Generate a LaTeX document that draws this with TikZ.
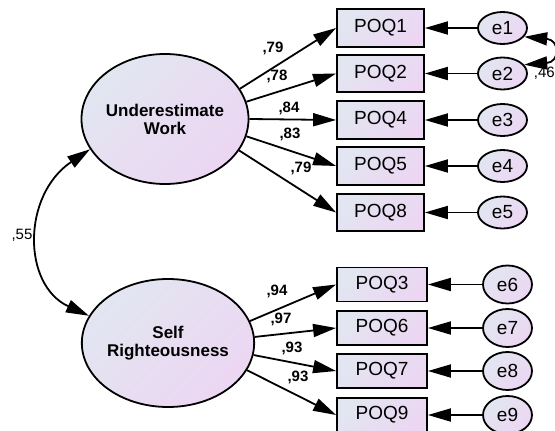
\documentclass[tikz,border=0pt]{standalone}
\usepackage{fontspec}
\setmainfont{Liberation Sans}
\usetikzlibrary{arrows.meta,shapes.geometric}
\definecolor{gA}{RGB}{226,230,241}
\definecolor{gB}{RGB}{236,214,242}
\tikzset{
 gradfill/.style={top color=gA,bottom color=gB,shading angle=45},
 latent/.style={ellipse,draw,line width=1.8pt,gradfill,inner sep=0pt,align=center,
   minimum width=160pt,font=\fontsize{17}{18}\selectfont\bfseries},
 obs/.style={rectangle,draw,line width=1.8pt,gradfill,inner sep=0pt,font=\fontsize{19}{20}\selectfont},
 err/.style={ellipse,draw,line width=1.8pt,gradfill,inner sep=0pt,minimum width=49pt,font=\fontsize{19}{20}\selectfont},
 bigtip/.tip={Triangle[length=23pt 0,width=13pt 0]},
 loadarrow/.style={line width=1.8pt,-bigtip},
 covarrow/.style={line width=1.8pt,bigtip-bigtip},
 coef/.style={font=\fontsize{15}{15}\selectfont\bfseries,inner sep=0pt},
 coefr/.style={font=\fontsize{15}{15}\selectfont,inner sep=0pt},
 upbox/.style={obs,minimum width=87pt,minimum height=37.5pt},
 lowbox/.style={obs,minimum width=90pt,minimum height=34pt},
 uperr/.style={err,minimum height=32pt},
 lowerr/.style={err,minimum height=38pt},
}
\begin{document}
\begin{tikzpicture}[x=1pt,y=-1pt]
\useasboundingbox (0,0) rectangle (555,431);
% latent variables
\node[latent,minimum height=130pt] (UW) at (165,119) {Underestimate\\Work};
\node[latent,minimum height=128pt] (SR) at (168,343) {Self\\Righteousness};
% upper indicators
\node[upbox] (q1) at (380.5,28) {POQ1};
\node[upbox] (q2) at (380.5,73.5) {POQ2};
\node[upbox] (q4) at (380.5,120) {POQ4};
\node[upbox] (q5) at (380.5,166) {POQ5};
\node[upbox] (q8) at (380.5,212.5) {POQ8};
\node[uperr] (e1) at (502.5,28) {e1};
\node[uperr] (e2) at (502.5,73.5) {e2};
\node[uperr] (e3) at (502.5,120) {e3};
\node[uperr] (e4) at (502.5,166) {e4};
\node[uperr] (e5) at (502.5,212.5) {e5};
% lower indicators
\node[lowbox] (q3) at (382,284.5) {POQ3};
\node[lowbox] (q6) at (382,328) {POQ6};
\node[lowbox] (q7) at (382,371) {POQ7};
\node[lowbox] (q9) at (382,415) {POQ9};
\node[lowerr] (e6) at (507.5,284.5) {e6};
\node[lowerr] (e7) at (507.5,328) {e7};
\node[lowerr] (e8) at (507.5,371) {e8};
\node[lowerr] (e9) at (507.5,415) {e9};
% loadings
\draw[loadarrow] (UW.22) -- (q1.west);
\draw[loadarrow] (UW.12) -- (q2.west);
\draw[loadarrow] (UW.0) -- (q4.west);
\draw[loadarrow] (UW.-12) -- (q5.west);
\draw[loadarrow] (UW.-23) -- (q8.west);
\draw[loadarrow] (SR.15) -- (q3.west);
\draw[loadarrow] (SR.4) -- (q6.west);
\draw[loadarrow] (SR.-8) -- (q7.west);
\draw[loadarrow] (SR.-19) -- (q9.west);
% errors
\foreach \e/\q in {e1/q1,e2/q2,e3/q4,e4/q5,e5/q8,e6/q3,e7/q6,e8/q7,e9/q9}
  \draw[loadarrow] (\e.west) -- (\q.east);
% covariances
\draw[covarrow] (UW.202) .. controls (22,195) and (22,285) .. (SR.161);
\draw[covarrow] (e1.-22) .. controls (560,40) and (560,62) .. (e2.22);
% labels
\node[coef] (l1) at (273,48) {,79};
\node[coef] (l2) at (277,76) {,78};
\node[coef] (l3) at (289,108) {,84};
\node[coef] (l4) at (290,134) {,83};
\node[coef] (l5) at (301,168) {,79};
\node[coef] (l6) at (277,291) {,94};
\node[coef] (l7) at (281,319) {,97};
\node[coef] (l8) at (292,348) {,93};
\node[coef] (l9) at (298,377) {,93};
\node[coefr] (l10) at (22,235) {,55};
\node[coefr,anchor=east] (l11) at (555,73) {,46};
\end{tikzpicture}
\end{document}
